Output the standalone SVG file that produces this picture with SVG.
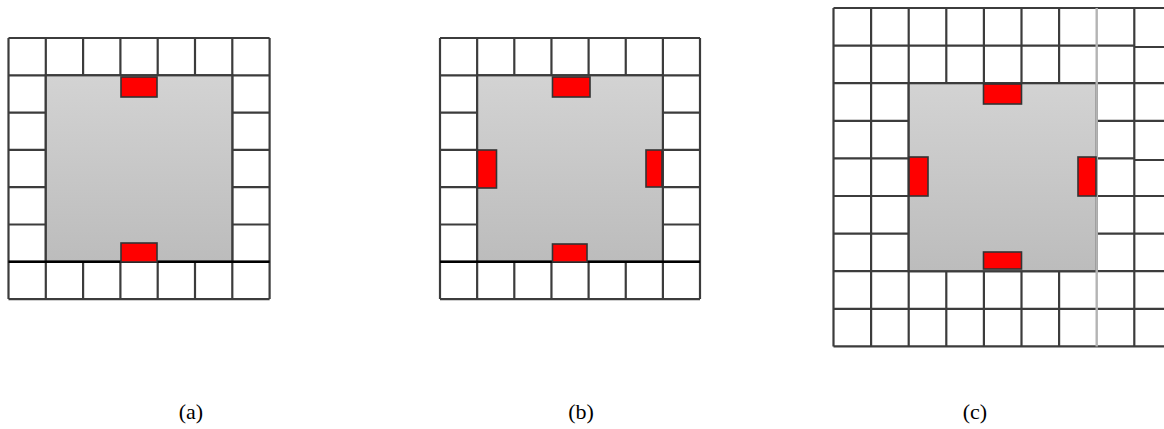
<svg xmlns="http://www.w3.org/2000/svg" width="1164" height="429" viewBox="0 0 1164 429">
<defs>
<linearGradient id="g" x1="0" y1="0" x2="0" y2="1">
<stop offset="0" stop-color="#d3d3d3"/>
<stop offset="1" stop-color="#bcbcbc"/>
</linearGradient>
<style>
.bg{fill:#fff;}
.grid{fill:none;stroke:#3c3c3c;stroke-width:2.2;}
.core{fill:url(#g);stroke:#3c3c3c;stroke-width:2.2;}
.red{fill:#ff0000;stroke:#333;stroke-width:1.6;}
.base{stroke:#000;stroke-width:2.4;}
.light{stroke:#b4b4b4;stroke-width:2.4;fill:none;}
.lbl{font-family:"Liberation Serif","DejaVu Serif",serif;font-size:22px;fill:#000;text-anchor:middle;}
</style>
</defs>
<rect width="1164" height="429" fill="#fff"/>

<g id="panel-a">
<rect class="bg" x="8.5" y="38" width="261.1" height="261.1"/>
<path class="grid" d="M8.5 38V299.1M45.8 38V299.1M83.1 38V299.1M120.4 38V299.1M157.7 38V299.1M195 38V299.1M232.3 38V299.1M269.6 38V299.1M8.5 38H269.6M8.5 75.3H269.6M8.5 112.6H269.6M8.5 149.9H269.6M8.5 187.2H269.6M8.5 224.5H269.6M8.5 261.8H269.6M8.5 299.1H269.6"/>
<rect class="core" x="45.8" y="75.3" width="186.5" height="186.5"/>
<line class="base" x1="8.5" y1="261.8" x2="269.6" y2="261.8"/>
<rect class="red" x="121" y="77" width="36" height="20"/>
<rect class="red" x="121" y="243" width="36" height="19"/>
<text class="lbl" x="191" y="419">(a)</text>
</g>

<g id="panel-b">
<rect class="bg" x="440" y="38" width="260" height="261.1"/>
<path class="grid" d="M440 38V299.1M477.15 38V299.1M514.3 38V299.1M551.45 38V299.1M588.6 38V299.1M625.75 38V299.1M662.9 38V299.1M700 38V299.1M440 38H700M440 75.3H700M440 112.6H700M440 149.9H700M440 187.2H700M440 224.5H700M440 261.8H700M440 299.1H700"/>
<rect class="core" x="477.15" y="75.3" width="185.75" height="186.5"/>
<line class="base" x1="440" y1="261.8" x2="700" y2="261.8"/>
<rect class="red" x="552.5" y="77" width="37.5" height="20"/>
<rect class="red" x="552.5" y="244" width="34.5" height="18"/>
<rect class="red" x="477.5" y="150" width="19" height="38"/>
<rect class="red" x="646" y="150" width="16" height="37"/>
<text class="lbl" x="581" y="419">(b)</text>
</g>

<g id="panel-c">
<rect class="bg" x="833.5" y="8" width="340" height="338.4"/>
<path class="grid" d="M833.5 8V346.4M871.1 8V346.4M908.7 8V346.4M946.3 8V346.4M983.9 8V346.4M1021.5 8V346.4M1059.1 8V346.4M1134.3 8V346.4M833.5 8H1172M833.5 45.6H1134.3M1134.3 47H1172M833.5 83.2H1172M833.5 120.8H1172M833.5 158.4H1134.3M1134.3 160H1172M833.5 196H1172M833.5 233.6H1172M833.5 271.2H1172M833.5 308.8H1172M833.5 346.4H1172"/>
<rect class="core" x="908.7" y="83.2" width="188" height="188"/>
<line class="light" x1="1096.7" y1="8" x2="1096.7" y2="346.4"/>
<rect class="red" x="983.5" y="84" width="38" height="20"/>
<rect class="red" x="983.5" y="252" width="38" height="17"/>
<rect class="red" x="909" y="157" width="19" height="39"/>
<rect class="red" x="1078" y="157" width="18" height="39"/>
<text class="lbl" x="975" y="419">(c)</text>
</g>
</svg>
